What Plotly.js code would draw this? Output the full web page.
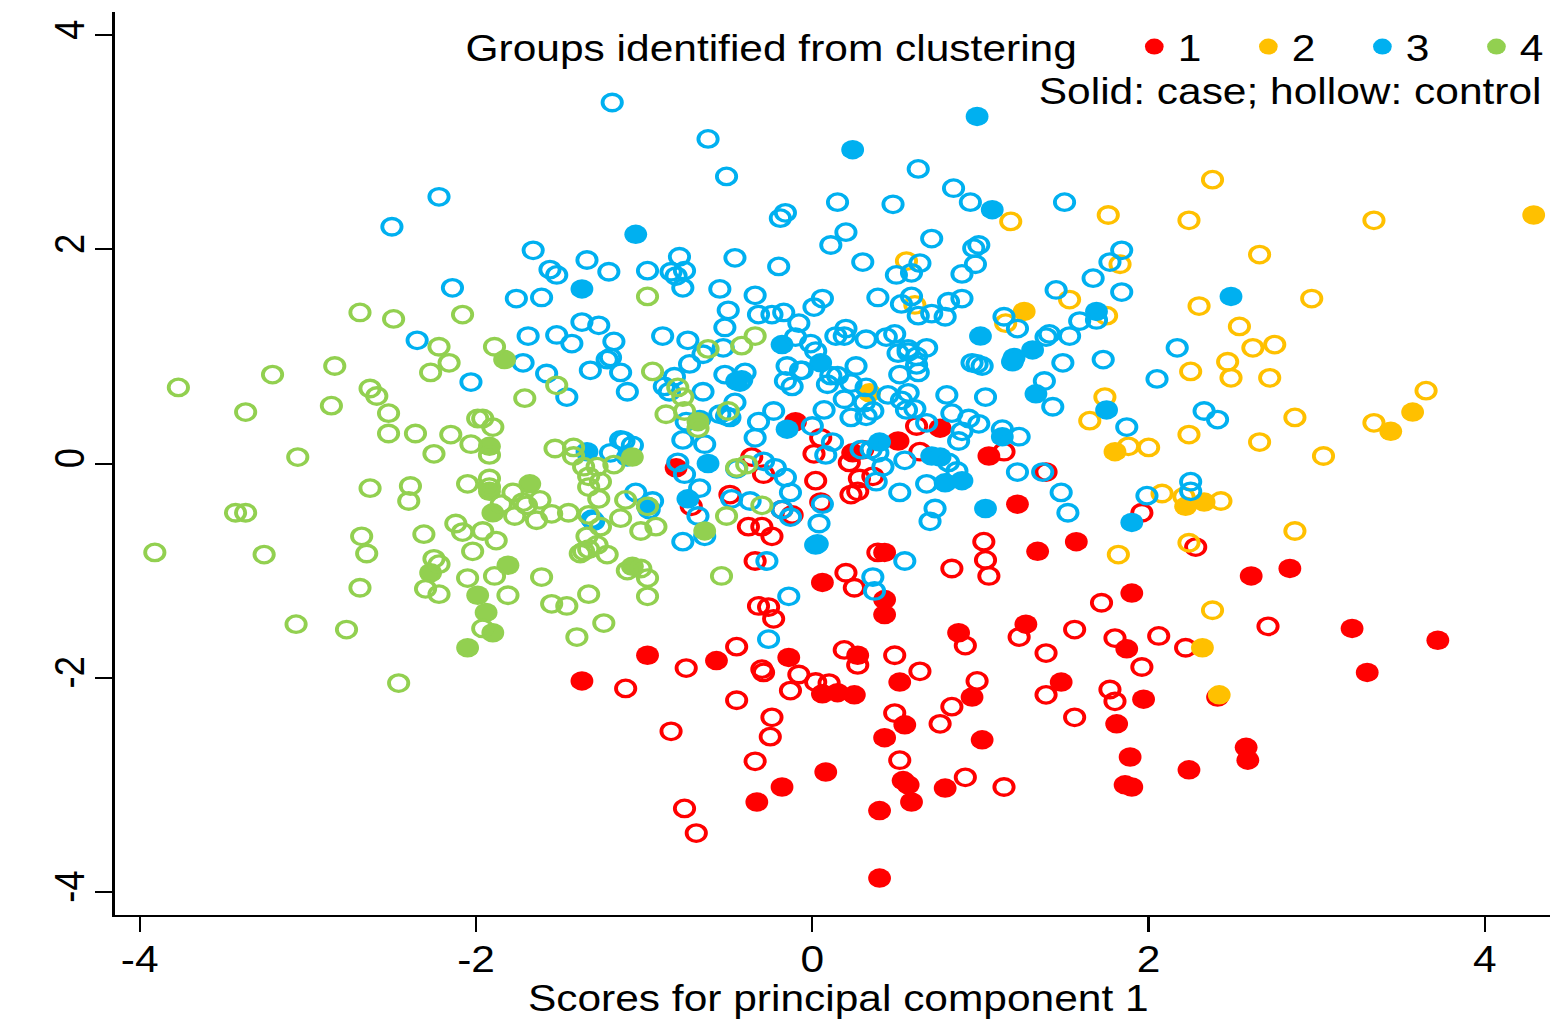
<!DOCTYPE html>
<html><head><meta charset="utf-8">
<script src="https://cdn.plot.ly/plotly-3.0.1.min.js"></script>
<style>html,body{margin:0;padding:0;background:#fff;overflow:hidden}
#chart{width:1325px;height:1019px;transform:scaleX(1.16981);transform-origin:0 0}
#chart .xtitle{transform:translateX(5.1px)}</style></head>
<body><div id="chart"></div>
<script>
const redSolidX=[-.10,-.81,.51,.76,1.05,.24,.06,.43,.43,.43,1.34,1.22,1.57,-.98,-.57,-1.37,-.14,.27,.52,.06,.15,.25,1.27,.87,1.48,1.90,2.84,2.61,3.21,3.72,3.30,1.87,1.97,1.81,.95,.55,.43,1.01,1.89,2.24,2.58,2.59,1.86,1.90,.79,.54,.57,.59,.40,.08,-.18,-.33,.40,2.41];
const redSolidY=[.39,-.04,.21,.33,.07,.10,-1.11,-.83,-1.27,-1.41,-.82,-.38,-.73,-1.79,-1.84,-2.03,-1.81,-1.79,-2.04,-2.15,-2.14,-2.16,-1.50,-1.58,-2.04,-1.21,-.98,-1.05,-1.54,-1.65,-1.95,-1.73,-2.20,-2.43,-2.18,-2.44,-2.56,-2.58,-2.74,-2.86,-2.65,-2.77,-3.00,-3.02,-3.03,-2.96,-3.00,-3.16,-3.24,-2.88,-3.02,-3.16,-3.87,-2.18];
const redHollowX=[-.36,-.29,.01,.05,.02,-.49,-.72,-.18,-.12,.05,-.38,-.30,-.24,-.34,.20,.25,-.32,-.26,-.23,.22,.28,.36,.23,.27,.64,.62,1.14,1.39,1.02,1.03,1.05,.83,.30,.39,1.96,2.28,1.72,2.06,2.22,2.71,1.23,1.39,1.56,1.80,1.96,1.39,1.77,1.80,1.56,.91,.98,.64,.49,.83,.76,.49,.52,.91,1.14,-.45,-.30,-.29,-1.11,-.75,-.45,-.24,-.25,-.34,-.84,-.76,-.69,-.13,-.08,.02,.10,.19,.27];
const redHollowY=[.06,-.10,.09,.24,-.16,-.29,-.40,-.43,-.48,-.36,-.59,-.59,-.68,-.91,-1.02,-1.16,-1.33,-1.34,-1.45,.01,-.14,-.12,-.29,-.26,.11,.35,.11,-.08,-.73,-.90,-1.05,-.98,.13,-.83,-.46,-.78,-1.30,-1.61,-1.72,-1.52,-1.62,-1.77,-1.55,-1.63,-1.90,-2.16,-2.11,-2.22,-2.37,-1.70,-2.03,-1.94,-1.79,-2.27,-2.43,-2.33,-2.77,-2.93,-3.02,-1.71,-1.92,-1.95,-2.10,-1.91,-2.21,-2.37,-2.55,-2.78,-2.50,-3.22,-3.45,-2.12,-1.97,-2.04,-2.05,-1.74,-1.88];
const yellowSolidX=[4.29,1.26,3.57,3.44,1.80,2.33,2.22,2.42,2.32,.34];
const yellowSolidY=[2.32,1.42,.48,.30,.11,-.36,-.40,-2.16,-1.72,.66];
const yellowHollowX=[2.38,1.76,2.24,1.18,3.34,2.66,1.83,1.53,2.30,2.97,2.54,2.62,2.75,2.47,2.25,2.49,2.72,1.74,3.65,2.87,1.65,3.34,2.24,2.66,1.88,2.00,3.04,2.08,2.21,2.43,2.87,2.24,1.82,2.38,1.75,.56,.61,1.15];
const yellowHollowY=[2.65,2.32,2.27,2.26,2.27,1.95,1.86,1.53,1.47,1.54,1.28,1.08,1.11,.95,.86,.80,.80,.62,.68,.43,.40,.38,.27,.20,.16,.15,.07,-.28,-.31,-.35,-.63,-.74,-.85,-1.37,1.38,1.89,1.48,1.31];
const blueSolidX=[.98,.24,1.07,-1.05,-1.37,2.49,1.69,1.00,1.31,1.20,1.19,1.33,1.75,-.18,.05,-.45,-.15,.40,.71,.76,.79,.89,1.13,1.03,.03,-.62,-.74,-.98,-1.34,-1.10,1.90];
const blueSolidY=[3.24,2.93,2.37,2.14,1.63,1.56,1.42,1.19,1.06,.99,.95,.65,.50,1.11,.94,.77,.32,.20,.07,.06,-.18,-.16,.25,-.42,-.75,0,-.33,-.40,.11,.06,-.55];
const blueHollowX=[-1.19,-.62,-.51,-2.22,-2.50,.63,.15,-.19,-.16,.48,.84,.94,1.50,.20,.11,.71,.96,.99,.97,.89,.30,.64,.59,.50,-.46,-.79,-.84,-.76,-.81,-.77,-.98,-1.21,-1.34,-1.66,-1.56,-1.52,-2.14,-1.76,-1.61,-.55,-.20,-.34,-.50,-.52,-.32,-.24,-.17,.06,.01,-.08,-.10,-.01,.02,.14,.20,.19,.32,.44,.49,.39,.53,.59,.63,.71,.79,.81,.89,.68,.51,.57,.57,.62,.62,.63,.52,.26,-.06,.09,.15,.23,.32,.45,.57,.53,.56,.61,.19,.07,.23,.32,.36,.31,.80,1.03,.83,.68,.93,.99,.89,.87,1.13,1.23,.95,1.01,.98,1.45,1.67,1.59,1.69,1.53,1.41,1.39,1.49,1.38,1.43,1.14,1.22,1.84,1.77,1.84,1.73,2.17,2.05,2.33,2.41,1.87,2.25,2.25,1.99,1.22,1.37,1.48,1.52,-2.35,-2.03,-1.72,-1.69,-1.52,-1.58,-1.46,-1.37,-1.27,-1.43,-1.18,-1.20,-1.22,-1.32,-1.14,-1.10,-.89,-.74,-.53,-.65,-.73,-.82,-.88,-.85,-.65,-.52,-.40,-.42,-.43,-.46,-.55,-.51,-.49,-.67,-.75,-.77,-.64,-.23,-.32,-.34,0,.12,.08,-.15,-.07,-.16,-.12,.11,.29,.35,.39,.42,.38,.55,.52,.68,.81,.86,.73,.70,.06,.04,.02,.55,.36,.37,-.29,-.22,-.16,-.13,-.45,-.80,-.76,-.67,-.68,-.64,-.77,-.48,-.37,-.18,-.13,-.27,-.14,-.26,-1.05,-.95,-.97,-1.31,-1.30,-1.20,-1.14,-1.07,-1.12];
const blueHollowY=[3.37,3.03,2.68,2.49,2.21,2.75,2.44,2.29,2.34,2.42,2.57,2.44,2.44,2.16,2.04,2.10,2.01,2.04,1.86,1.77,1.88,1.87,1.78,1.76,1.92,1.93,1.79,1.80,1.75,1.64,1.80,1.79,1.90,1.99,1.81,1.76,1.64,1.54,1.55,1.63,1.84,1.57,1.43,1.27,1.39,1.39,1.41,1.54,1.46,1.31,1.18,1.12,1.05,1.19,1.26,1.19,1.16,1.18,1.21,1.55,1.49,1.56,1.38,1.40,1.37,1.51,1.54,1.08,1.03,1.07,1.04,1.00,.92,.85,.83,.91,.87,.74,.82,.75,.71,.64,.66,.59,.50,.51,.60,.50,.43,.44,.49,.57,.64,.62,.47,.38,.42,.37,.30,.21,.32,.25,.94,.91,.93,1.62,1.73,1.33,1.34,1.19,1.21,1.18,.94,.77,.53,1.37,1.26,1.99,1.88,1.60,.97,1.08,.79,.49,.41,.34,-.17,-.26,-.30,-.08,-.08,-.27,-.46,1.15,.76,.94,1.19,1.20,.84,.62,1.32,1.29,1.12,1.14,.99,.97,.87,.85,.67,1.19,1.15,1.08,1.02,.93,.81,.72,.67,.67,.83,.85,.78,.76,.57,.46,.44,.43,.41,.39,.22,.18,.49,.39,.24,.35,.20,.08,.91,.87,.77,.72,.82,.13,.13,.10,-.03,-.17,.03,-.27,-.19,.01,-.07,-.42,-.54,-.38,-.56,-.76,-.91,-1.06,-1.19,.02,-.04,-.13,-.27,-.05,.01,-.10,-.23,-.49,-.68,-.73,-.33,-.35,-.43,-.50,-.91,-1.24,-1.64,-.27,-.35,-.43,-.52,-.54,.10,.22,.17,.21];
const greenSolidX=[-1.92,-1.92,-1.68,-1.90,-1.81,-2.27,-1.99,-1.94,-1.90,-2.05,-1.07,-1.07,-1.83,-.64,-.68];
const greenSolidY=[.16,-.26,-.19,-.46,-.95,-1.02,-1.23,-1.39,-1.58,-1.72,-.96,.06,.97,-.63,.39];
const greenHollowX=[-3.91,-3.77,-3.37,-3.21,-2.84,-2.86,-2.69,-2.49,-2.63,-2.59,-2.52,-2.52,-2.36,-3.06,-2.08,-2.22,-2.16,-2.27,-1.89,-2.15,-2.25,-2.03,-1.99,-1.96,-1.90,-1.92,-1.71,-1.52,-2.63,-2.39,-2.40,-2.05,-1.92,-1.92,-1.78,-1.85,-1.72,-1.70,-1.77,-1.62,-1.64,-1.55,-1.45,-1.33,-1.27,-1.33,-1.26,-1.33,-1.28,-1.36,-1.42,-1.42,-1.53,-1.18,-1.11,-1.14,-1.02,-.93,-1.26,-1.34,-1.28,-1.22,-1.33,-1.36,-1.38,-2.68,-2.65,-2.31,-2.12,-2.08,-1.96,-1.88,-2.02,-2.25,-2.22,-2.69,-2.30,-2.22,-2.05,-1.89,-1.61,-1.81,-1.55,-1.46,-1.33,-1.10,-1.02,-.98,-.98,-1.24,-1.40,-1.96,-2.77,-3.07,-3.26,-3.43,-3.37,-2.46,-.98,-.62,-.42,-.34,-.95,-.80,-.77,-.76,-.87,-.68,-.50,-.39,-.30,-.51,-.54,-.98,-.45];
const greenHollowY=[-.83,.71,.48,.83,.91,.54,1.41,1.35,.70,.63,.47,.28,.28,.06,1.39,1.09,.94,.85,1.09,.27,.09,.18,.42,.42,.34,.08,.61,.73,-.23,-.21,-.35,-.19,-.14,-.22,-.27,-.38,-.36,-.39,-.49,-.34,-.53,-.47,-.46,-.48,-.33,-.22,-.17,-.12,-.03,-.03,.07,.15,.14,-.01,-.34,-.51,-.63,-.59,-.59,-.68,-.76,-.85,-.80,-.82,-.84,-.68,-.84,-.66,-.56,-.64,-.63,-.72,-.82,-.89,-.94,-1.16,-1.17,-1.22,-1.07,-1.05,-1.06,-1.23,-1.31,-1.33,-1.22,-1.00,-.98,-1.07,-1.24,-1.49,-1.62,-1.54,-1.55,-1.50,-.85,-.46,-.46,-2.05,1.56,1.07,1.10,1.19,.86,.71,.62,.49,.46,.33,.49,-.01,-.39,-.49,-1.05,-.40,-.04];
const groupNames=['1','2','3','4'];
const groupColors=['#ff0000','#ffc000','#00b0f0','#92d050'];
const xTickVals=[-4,-2,0,2,4];
const yTickVals=[-4,-2,0,2,4];
const tickLabels=['-4','-2','0','2','4'];
const xTitle='Scores for principal component 1';
const legendTitle='Groups identified from clustering';
const legendNote='Solid: case; hollow: control';

const font='"Liberation Sans", Arial, sans-serif';
const fs=36.3;
function solid(x,y,i){return {type:'scatter',mode:'markers',x,y,name:groupNames[i],showlegend:true,
  marker:{symbol:'circle',size:19.5,color:groupColors[i],line:{width:0}},hoverinfo:'x+y'};}
function hollow(x,y,i){return {type:'scatter',mode:'markers',x,y,name:groupNames[i],showlegend:false,
  marker:{symbol:'circle-open',size:16.5,color:groupColors[i],line:{width:3.3,color:groupColors[i]}},hoverinfo:'x+y'};}
const data=[
  solid(redSolidX,redSolidY,0),hollow(redHollowX,redHollowY,0),
  solid(yellowSolidX,yellowSolidY,1),hollow(yellowHollowX,yellowHollowY,1),
  solid(blueSolidX,blueSolidY,2),hollow(blueHollowX,blueHollowY,2),
  solid(greenSolidX,greenSolidY,3),hollow(greenHollowX,greenHollowY,3)
];
const axisBase={showgrid:false,zeroline:false,showline:true,linecolor:'#000',linewidth:1.8,ticks:'outside',
  ticklen:15,tickwidth:1.8,tickcolor:'#000',tickfont:{family:font,size:fs,color:'#000'},tickmode:'array',ticktext:tickLabels};
const W=1325,S=1550/1325;
const layout={
  width:W,height:1019,paper_bgcolor:'#fff',plot_bgcolor:'#fff',
  margin:{l:115/S,r:0,t:12,b:104,pad:0,autoexpand:false},font:{family:font,color:'#000'},
  xaxis:Object.assign({},axisBase,{range:[-4.149,4.387],tickvals:xTickVals,ticklabelstandoff:-3,
     title:{text:xTitle,font:{family:font,size:fs,color:'#000'},standoff:0}}),
  yaxis:Object.assign({},axisBase,{range:[-4.215,4.215],tickvals:yTickVals,tickangle:-90,ticklabelstandoff:-5}),
  legend:{orientation:'h',x:(1131-115)/1435,xanchor:'left',y:0.995,yanchor:'top',bgcolor:'rgba(0,0,0,0)',
     font:{family:font,size:fs,color:'#000'},entrywidth:52.5,entrywidthmode:'pixels',traceorder:'normal',itemsizing:'trace'},
  annotations:[
    {xref:'paper',yref:'paper',x:(1080-115)/1435,y:(1019-104-48)/903,xanchor:'right',yanchor:'middle',showarrow:false,text:legendTitle,font:{family:font,size:fs,color:'#000'}},
    {xref:'paper',yref:'paper',x:(1544-115)/1435,y:(1019-104-92)/903,xanchor:'right',yanchor:'middle',showarrow:false,text:legendNote,font:{family:font,size:fs,color:'#000'}}
  ]
};
Plotly.newPlot('chart',data,layout,{displayModeBar:false,responsive:false});
</script></body></html>
